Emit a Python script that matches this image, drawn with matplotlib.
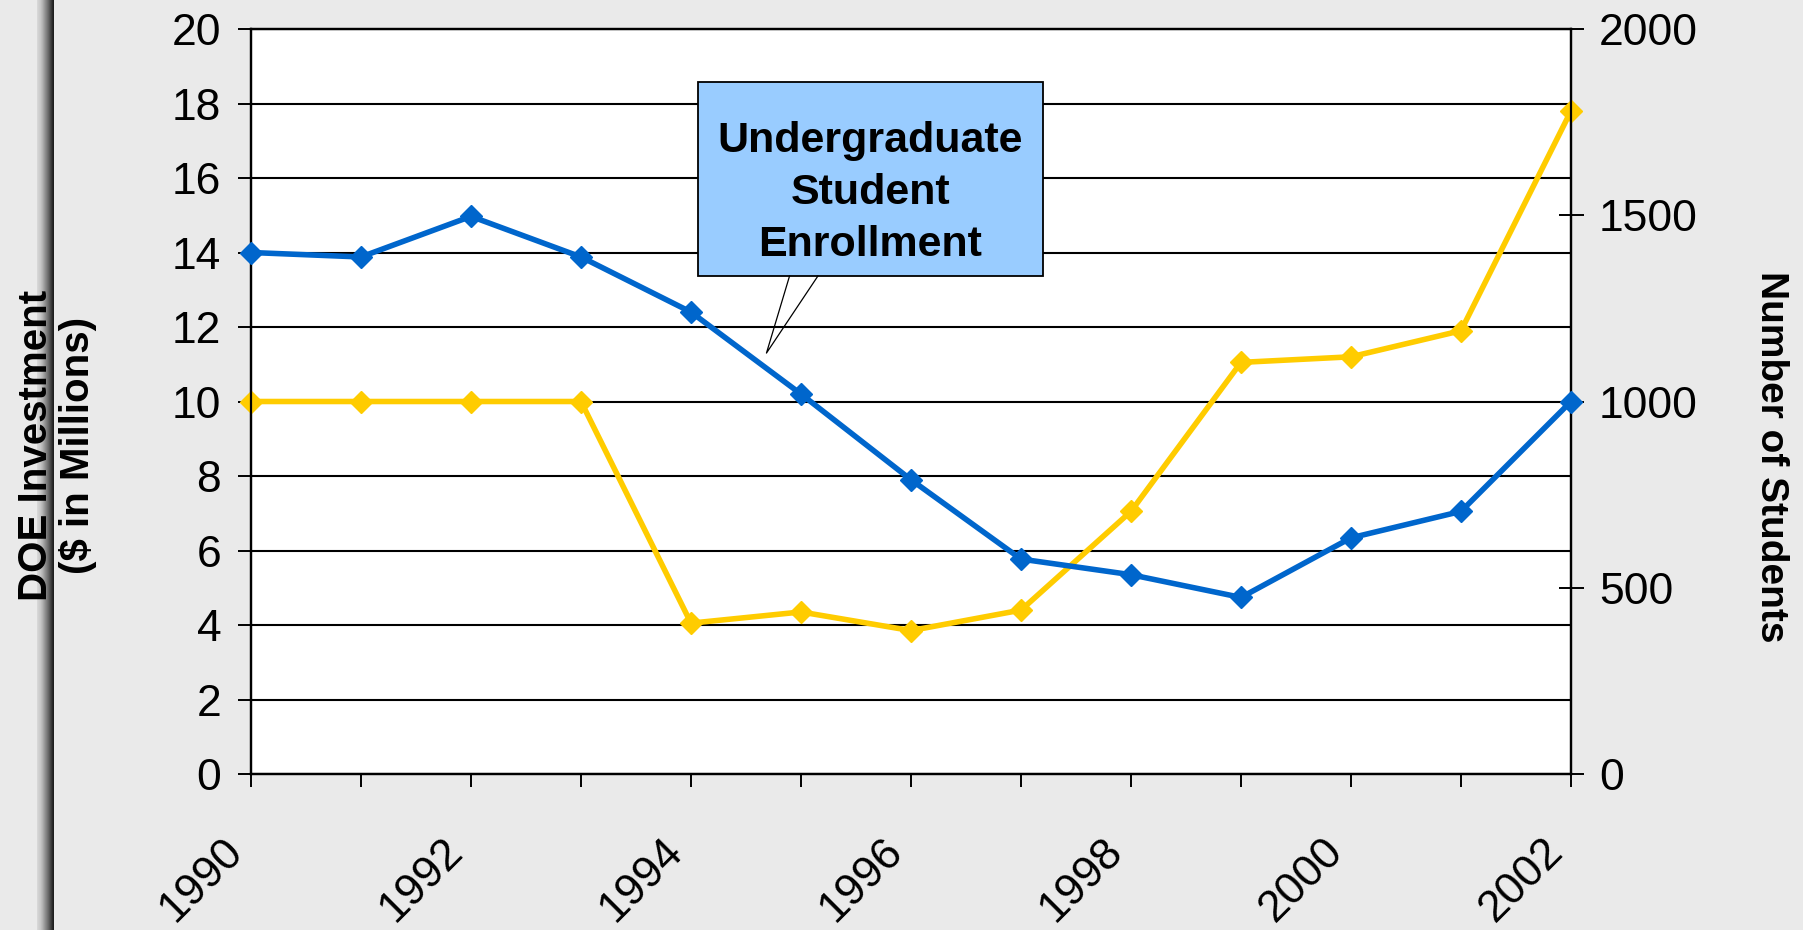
import numpy as np
import matplotlib
matplotlib.use('Agg')
import matplotlib.pyplot as plt
from matplotlib.patches import Rectangle

plt.rcParams['font.family'] = ['Liberation Sans', 'DejaVu Sans']

# data
years = [1990, 1991, 1992, 1993, 1994, 1995, 1996, 1997, 1998, 1999, 2000, 2001, 2002]
investment = [10, 10, 10, 10, 4.05, 4.35, 3.85, 4.4, 7.05, 11.05, 11.2, 11.9, 17.8]
students = [1400, 1388, 1497, 1388, 1240, 1020, 790, 577, 535, 474, 634, 705, 1000]
left_ticks = list(range(0, 21, 2))
right_ticks = [0, 500, 1000, 1500, 2000]
year_labels = [str(y) if y % 2 == 0 else '' for y in years]

W, H = 1803, 930
bg = '#EAEAEA'
fig = plt.figure(figsize=(W / 100, H / 100), dpi=100, facecolor=bg)

# shaded bar on the left edge (light -> dark)
bar = fig.add_axes([37 / W, 0, 17 / W, 1])
shade = np.array([0.84, 0.82, 0.8, 0.78, 0.74, 0.7, 0.65, 0.6, 0.55, 0.5, 0.45, 0.4, 0.34, 0.28, 0.22, 0.16, 0.12])
bar.imshow(shade[np.newaxis, :], aspect='auto', cmap='gray', vmin=0, vmax=1, extent=[0, 1, 0, 1])
bar.axis('off')

ax = fig.add_axes([251 / W, 1 - 774 / H, 1320 / W, 745 / H])
ax.set_facecolor('white')
ax.plot(years, investment, color='#FFCC00', lw=4, marker='D', ms=11.5, clip_on=False, zorder=3)
ax.set_xlim(1990, 2002)
ax.set_ylim(0, 20)
ax.set_yticks(left_ticks)
ax.set_xticks(years)
ax.set_xticklabels(year_labels, rotation=45, ha='right')
ax.yaxis.grid(True, color='#000000', lw=1.5)
ax.tick_params(axis='y', direction='out', length=9.5, width=1.4, pad=12, labelsize=32)
ax.tick_params(axis='x', direction='out', length=9.5, width=1.4, pad=31, labelsize=32)
for s in ax.spines.values():
    s.set_linewidth(1.6)

ax2 = ax.twinx()
ax2.plot(years, students, color='#0066CC', lw=4, marker='D', ms=11.5, clip_on=False, zorder=3)
ax2.set_ylim(0, 2000)
ax2.set_yticks(right_ticks)
ax2.tick_params(axis='y', direction='inout', length=18, width=1.4, pad=11, labelsize=32)
for s in ax2.spines.values():
    s.set_linewidth(1.6)

# callout
ax2.add_patch(Rectangle((0.3386, 0.6685), 0.2614, 0.2605, transform=ax2.transAxes,
                        facecolor='#99CCFF', edgecolor='black', lw=1.3, zorder=5))
ax2.plot([0.408, 0.3905, 0.4295], [0.6685, 0.565, 0.6685], transform=ax2.transAxes,
         color='black', lw=0.9, zorder=5, clip_on=False)
ax2.text(0.469, 0.78, 'Undergraduate\nStudent\nEnrollment', transform=ax2.transAxes,
         ha='center', va='center', fontsize=31, fontweight='bold', linespacing=1.38, zorder=6)

fig.text(57 / W, 1 - 445 / H, 'DOE Investment\n($ in Millions)', rotation=90,
         ha='center', va='center', multialignment='center', fontsize=29,
         fontweight='bold', linespacing=1.15)
fig.text(1771 / W, 1 - 457 / H, 'Number of Students', rotation=270,
         ha='center', va='center', fontsize=28, fontweight='bold')

fig.savefig('out.png', dpi=100, facecolor=bg)
